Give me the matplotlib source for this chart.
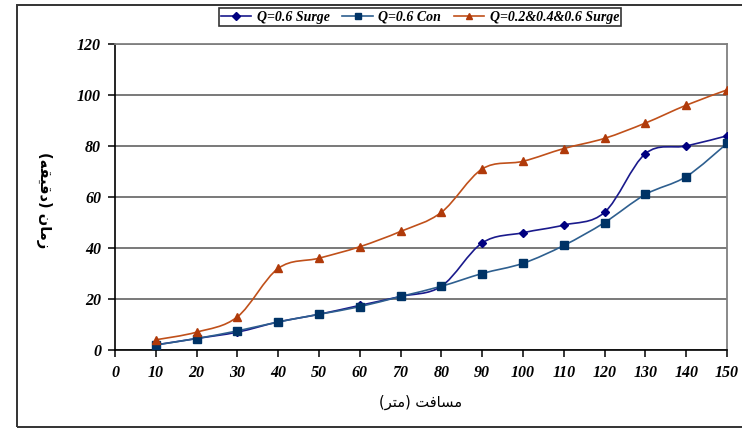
import matplotlib
matplotlib.use("Agg")
import matplotlib.pyplot as plt
from matplotlib.path import Path
from matplotlib.patches import PathPatch, Rectangle
from matplotlib.lines import Line2D

# distance (m)
distance = [10, 20, 30, 40, 50, 60, 70, 80, 90, 100, 110, 120, 130, 140, 150]
# advance time (min)
surge_06 = [2, 4.5, 7, 11, 14, 17.5, 21, 25, 42, 46, 49, 54, 77, 80, 84]
con_06 = [2, 4.5, 7.5, 11, 14, 17, 21, 25, 30, 34, 41, 50, 61, 68, 81]
surge_all = [4, 7, 13, 32, 36, 40.5, 46.5, 54, 71, 74, 79, 83, 89, 96, 102]

series_names = ["Q=0.6 Surge", "Q=0.6 Con", "Q=0.2&0.4&0.6 Surge"]
x_ticks = list(range(0, 151, 10))
y_ticks = list(range(0, 121, 20))

# Persian axis titles written in presentation forms, visual order
xlabel_text = "(\ufeae\ufe98\ufee3) \ufe96\ufed3\ufe8e\ufeb4\ufee3"
ylabel_text = "(\ufeea\ufed8\ufef4\ufed7\ufea9) \ufee5\ufe8e\ufee3\ufeaf"

serif = ["Liberation Serif", "DejaVu Serif"]


def smooth_path(xs, ys):
    """Bezier path through the points, same tension as spreadsheet smoothing."""
    pts = list(zip(xs, ys))
    verts = [pts[0]]
    codes = [Path.MOVETO]
    n = len(pts)
    for i in range(n - 1):
        p0 = pts[i - 1] if i > 0 else pts[i]
        p1 = pts[i]
        p2 = pts[i + 1]
        p3 = pts[i + 2] if i + 2 < n else pts[i + 1]
        c1 = (p1[0] + (p2[0] - p0[0]) / 6, p1[1] + (p2[1] - p0[1]) / 6)
        c2 = (p2[0] - (p3[0] - p1[0]) / 6, p2[1] - (p3[1] - p1[1]) / 6)
        verts += [c1, c2, p2]
        codes += [Path.CURVE4] * 3
    return Path(verts, codes)


fig = plt.figure(figsize=(7.42, 4.29), dpi=100)
fig.patch.set_facecolor("white")

# outer chart frame
frame = Rectangle((17 / 742, 2 / 429), 1.2, 422 / 429, transform=fig.transFigure,
                  fill=False, edgecolor="#333333", lw=1.4, clip_on=False)
fig.add_artist(frame)

ax = fig.add_axes([115 / 742, 1 - 350 / 429, (727 - 115) / 742, (350 - 44) / 429])

styles = [
    dict(data=surge_06, line="#1a1a8c", mcolor="#000080", marker="D", ms=4.5),
    dict(data=con_06, line="#2e5f8f", mcolor="#003366", marker="s", ms=5.5),
    dict(data=surge_all, line="#c0501a", mcolor="#b03a0a", marker="^", ms=5.5),
]

handles = []
for name, st in zip(series_names, styles):
    patch = PathPatch(smooth_path(distance, st["data"]), fill=False,
                      edgecolor=st["line"], lw=1.2, zorder=3)
    ax.add_patch(patch)
    ax.plot(distance, st["data"], linestyle="none", marker=st["marker"],
            ms=st["ms"], color=st["mcolor"], zorder=4)
    handles.append(Line2D([], [], color=st["line"], lw=1.2, marker=st["marker"],
                          ms=st["ms"] - 0.5, markerfacecolor=st["mcolor"],
                          markeredgecolor=st["mcolor"], label=name))

ax.set_xlim(0, 150)
ax.set_ylim(0, 120)
ax.set_xticks(x_ticks)
ax.set_yticks(y_ticks)
ax.yaxis.grid(True, color="#6e6e6e", lw=1.3)
ax.set_axisbelow(True)

for side in ("left", "bottom"):
    ax.spines[side].set_color("black")
    ax.spines[side].set_linewidth(1.2)
for side in ("top", "right"):
    ax.spines[side].set_color("#808080")
    ax.spines[side].set_linewidth(1.3)

ax.tick_params(axis="both", direction="out", length=5, width=1.1, color="black")
ax.tick_params(axis="y", pad=5)
ax.tick_params(axis="x", pad=6)
for lab in ax.get_xticklabels() + ax.get_yticklabels():
    lab.set_fontfamily(serif)
    lab.set_fontweight("bold")
    lab.set_fontstyle("italic")
    lab.set_fontsize(11.5)

fig.text(0.5 * (115 + 727) / 742, 1 - 402 / 429, xlabel_text, ha="center", va="center",
         fontsize=10.5, family=["DejaVu Sans"])
fig.text(44 / 742, 1 - 200 / 429, ylabel_text, ha="center", va="center",
         rotation=-90, fontsize=10.5, family=["DejaVu Sans"], fontweight="bold")

leg = fig.legend(handles=handles, loc="center", bbox_to_anchor=(420 / 742, 1 - 17 / 429),
                 ncol=3, frameon=True, fancybox=False, edgecolor="black",
                 handlelength=2.2, handletextpad=0.4, columnspacing=0.9,
                 borderpad=0.15, prop=dict(family=serif, weight="bold", style="italic", size=10))
leg.get_frame().set_linewidth(1.2)

fig.savefig("out.png", dpi=100, facecolor="white")
